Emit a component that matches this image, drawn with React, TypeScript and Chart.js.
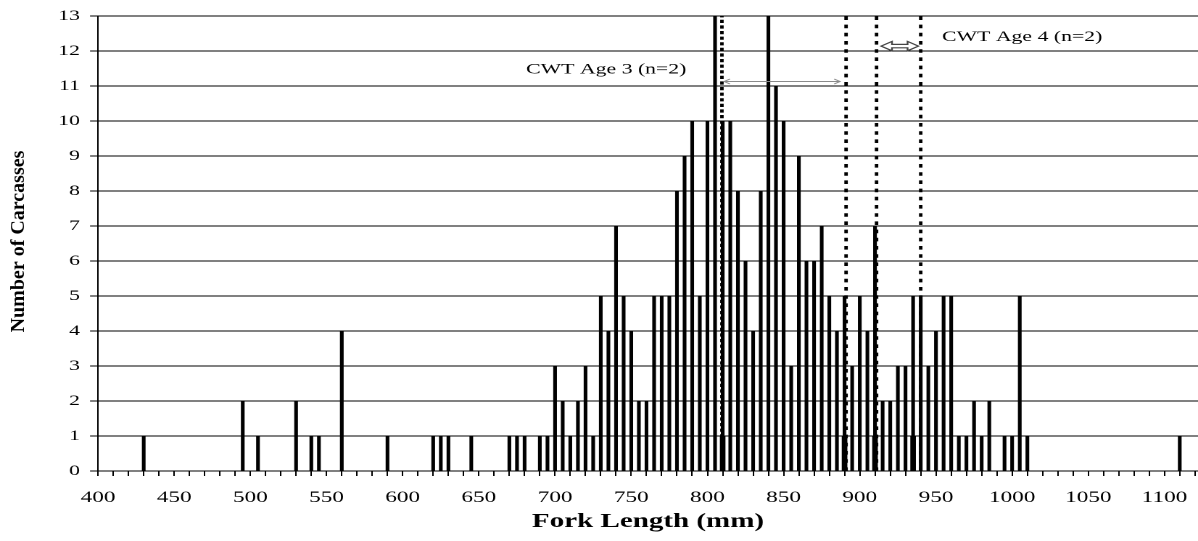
import React, { useEffect, useRef } from 'react';
import { Chart, registerables } from 'chart.js';

Chart.register(...registerables);

// ---- data ----
const forkLengths = [
  430, 495, 505, 530, 540, 545, 560, 590, 620, 625, 630, 645, 670, 675, 680, 690, 695,
  700, 705, 710, 715, 720, 725, 730, 735, 740, 745, 750, 755, 760, 765, 770, 775, 780, 785, 790, 795,
  800, 805, 810, 815, 820, 825, 830, 835, 840, 845, 850, 855, 860, 865, 870, 875, 880, 885, 890, 895,
  900, 905, 910, 915, 920, 925, 930, 935, 940, 945, 950, 955, 960, 965, 970, 975, 980, 985,
  995, 1000, 1005, 1010, 1110,
];
const carcassCounts = [
  1, 2, 1, 2, 1, 1, 4, 1, 1, 1, 1, 1, 1, 1, 1, 1, 1,
  3, 2, 1, 2, 3, 1, 5, 4, 7, 5, 4, 2, 2, 5, 5, 5, 8, 9, 10, 5,
  10, 13, 10, 10, 8, 6, 4, 8, 13, 11, 10, 3, 9, 6, 6, 7, 5, 4, 5, 3,
  5, 4, 7, 2, 2, 3, 3, 5, 5, 3, 4, 5, 5, 1, 1, 2, 1, 2,
  1, 1, 5, 1, 1,
];
const cwtLengths = [810, 890, 910, 935];
const cwtCounts = [1, 1, 1, 1];
const boundLengths = [809.5, 891, 911, 940];

const noteTexts = ['CWT Age 3 (n=2)', 'CWT Age 4 (n=2)'];
const noteX = [681, 954];
const noteY = [11.47, 12.4];
const arrowFrom = [811, 914];
const arrowTo = [887, 938.5];
const arrowY = [11.13, 12.14];

const xMin = 400;
const xMax = 1122;
const yMin = 0;
const yMax = 13;
const xTitle = 'Fork Length (mm)';
const yTitle = 'Number of Carcasses';

// ---- layout ----
const OUT_W = 1198;
const OUT_H = 541;
const CW = 826; // canvas width, CSS-stretched to OUT_W
const S = OUT_W / CW;
const SERIF = '"Liberation Serif", "Times New Roman", serif';

const annotate = {
  id: 'annotate',
  afterDatasetsDraw(chart: any) {
    const { ctx, scales } = chart;
    const x = scales.x;
    const y = scales.y;
    ctx.save();
    ctx.fillStyle = '#000';
    ctx.font = `15px ${SERIF}`;
    ctx.textAlign = 'left';
    ctx.textBaseline = 'middle';
    noteTexts.forEach((t, i) => {
      ctx.fillText(t, x.getPixelForValue(noteX[i]), y.getPixelForValue(noteY[i]));
    });

    // thin double arrow (age 3)
    {
      const x1 = x.getPixelForValue(arrowFrom[0]);
      const x2 = x.getPixelForValue(arrowTo[0]);
      const yy = Math.round(y.getPixelForValue(arrowY[0])) + 0.5;
      const hl = 4;
      const hh = 2.5;
      ctx.strokeStyle = '#8a8a8a';
      ctx.lineWidth = 1;
      ctx.beginPath();
      ctx.moveTo(x1, yy);
      ctx.lineTo(x2, yy);
      ctx.moveTo(x1 + hl, yy - hh);
      ctx.lineTo(x1, yy);
      ctx.lineTo(x1 + hl, yy + hh);
      ctx.moveTo(x2 - hl, yy - hh);
      ctx.lineTo(x2, yy);
      ctx.lineTo(x2 - hl, yy + hh);
      ctx.stroke();
    }
    // hollow block double arrow (age 4)
    {
      const x1 = x.getPixelForValue(arrowFrom[1]);
      const x2 = x.getPixelForValue(arrowTo[1]);
      const yy = y.getPixelForValue(arrowY[1]);
      const hl = 7.5;
      const hh = 4.7;
      const sh = 1.7;
      ctx.beginPath();
      ctx.moveTo(x1, yy);
      ctx.lineTo(x1 + hl, yy - hh);
      ctx.lineTo(x1 + hl, yy - sh);
      ctx.lineTo(x2 - hl, yy - sh);
      ctx.lineTo(x2 - hl, yy - hh);
      ctx.lineTo(x2, yy);
      ctx.lineTo(x2 - hl, yy + hh);
      ctx.lineTo(x2 - hl, yy + sh);
      ctx.lineTo(x1 + hl, yy + sh);
      ctx.lineTo(x1 + hl, yy + hh);
      ctx.closePath();
      ctx.fillStyle = '#fff';
      ctx.fill();
      ctx.strokeStyle = '#444';
      ctx.lineWidth = 1.2;
      ctx.stroke();
    }
    ctx.restore();
  },
  afterDraw(chart: any) {
    const { ctx, chartArea } = chart;
    ctx.save();
    ctx.translate(19 / S, (chartArea.top + chartArea.bottom) / 2 - 2);
    ctx.scale(1 / S, 1);
    ctx.rotate(-Math.PI / 2);
    ctx.font = `bold 20px ${SERIF}`;
    ctx.fillStyle = '#000';
    ctx.textAlign = 'center';
    ctx.textBaseline = 'middle';
    ctx.fillText(yTitle, 0, 0, 185);
    ctx.restore();
  },
};

export default function App() {
  const ref = useRef<HTMLCanvasElement>(null);

  useEffect(() => {
    if (!ref.current) return;
    const barData = forkLengths.map((v, i) => ({ x: v, y: carcassCounts[i] }));
    const cwtData = cwtLengths.map((v, i) => ({ x: v, y: cwtCounts[i] }));
    const boundSets = boundLengths.map((b, i) => ({
      type: 'line' as const,
      data: [
        { x: b, y: yMin },
        { x: b, y: yMax },
      ],
      borderColor: '#000',
      borderWidth: 2.4,
      borderDash: i === 0 ? [3.2, 2.4] : [3.6, 4.6],
      borderCapStyle: 'butt',
      pointRadius: 0,
      fill: false,
      order: 0,
    }));

    const chart = new Chart(ref.current, {
      type: 'bar',
      data: {
        datasets: [
          ...boundSets,
          {
            type: 'bar',
            data: cwtData,
            backgroundColor: '#000',
            barThickness: 3.2,
            grouped: false,
            order: 1,
          } as any,
          {
            type: 'bar',
            data: barData,
            backgroundColor: '#000',
            barThickness: 1.9,
            grouped: false,
            order: 2,
          } as any,
        ],
      },
      options: {
        animation: false,
        responsive: false,
        devicePixelRatio: 2,
        layout: { padding: { top: 14, left: 0, right: 0, bottom: 0 } },
        plugins: {
          legend: { display: false },
          tooltip: { enabled: false },
        },
        scales: {
          x: {
            type: 'linear',
            min: xMin,
            max: xMax,
            offset: false,
            grid: {
              offset: false,
              drawOnChartArea: false,
              drawTicks: true,
              tickLength: 5,
              color: '#000',
            },
            border: { display: true, color: '#000', width: 1 },
            ticks: {
              stepSize: 10,
              includeBounds: false,
              autoSkip: false,
              maxRotation: 0,
              minRotation: 0,
              padding: 12,
              color: '#000',
              font: { family: SERIF, size: 16 },
              callback: (v: any) => (Number(v) % 50 === 0 ? String(v) : ''),
            },
            title: {
              display: true,
              text: xTitle,
              color: '#000',
              font: { family: SERIF, size: 20, weight: 'bold' },
              padding: { top: 0, bottom: 7 },
            },
            afterFit: (scale: any) => {
              scale.height = 70;
              scale.paddingLeft = 0;
              scale.paddingRight = 0;
            },
          },
          y: {
            type: 'linear',
            min: yMin,
            max: yMax,
            grid: {
              drawOnChartArea: true,
              drawTicks: true,
              tickLength: 5.5,
              color: '#000',
              lineWidth: 1,
            },
            border: { display: true, color: '#000', width: 1 },
            ticks: {
              stepSize: 1,
              padding: 7,
              color: '#000',
              font: { family: SERIF, size: 15 },
            },
            afterFit: (scale: any) => {
              scale.width = 98 / S;
            },
          },
        },
      },
      plugins: [annotate],
    } as any);
    return () => chart.destroy();
  }, []);

  return (
    <div
      style={{
        position: 'absolute',
        left: 0,
        top: 0,
        width: OUT_W,
        height: OUT_H,
        background: '#fff',
        overflow: 'hidden',
      }}
    >
      <canvas
        ref={ref}
        width={CW}
        height={OUT_H}
        style={{ width: `${OUT_W}px`, height: `${OUT_H}px`, display: 'block' }}
      />
    </div>
  );
}
